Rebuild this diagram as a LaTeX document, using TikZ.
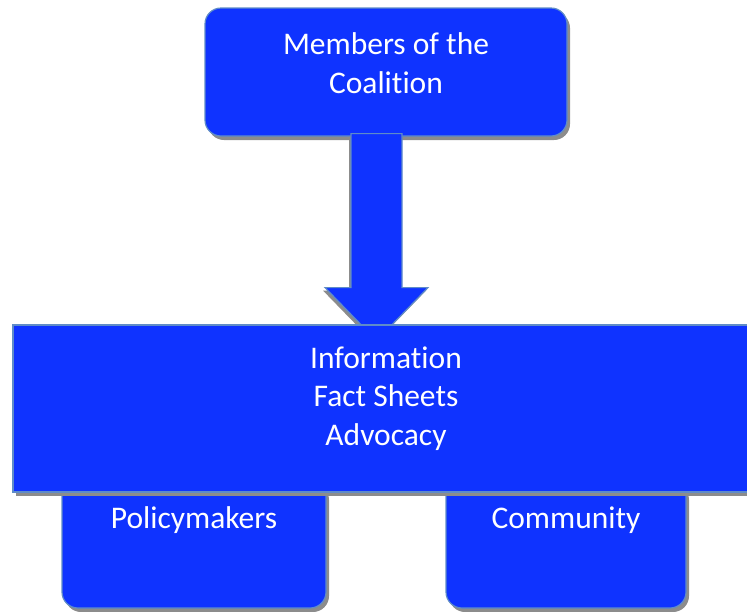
\documentclass[tikz,border=0pt]{standalone}
\usepackage{fontspec}
\setmainfont[Ligatures=NoCommon]{Carlito}
\usetikzlibrary{calc,shadows}

\definecolor{boxblue}{RGB}{15,51,255}
\definecolor{edgeblue}{RGB}{95,140,200}

\tikzset{
  box/.style={draw=edgeblue, fill=boxblue, line width=1.2pt, text=white,
    align=center, inner sep=4pt,
    font=\fontsize{31.5}{38.5}\selectfont,
    drop shadow={shadow xshift=3pt, shadow yshift=-4pt, fill=black!45, opacity=1}},
  blockarrow/.style={draw=edgeblue, fill=boxblue, line width=1.2pt,
    drop shadow={shadow xshift=-2pt, shadow yshift=-3pt, fill=black!45, opacity=1}}
}

\begin{document}
\begin{tikzpicture}[x=1pt,y=-1pt]
\useasboundingbox (0,0) rectangle (747,611);

   % the two groups reached
   \node[box, rounded corners=16pt, minimum width=264pt, text height=44pt, text depth=76pt] (policy) at (194,544) {Policymakers};
   \node[box, rounded corners=16pt, minimum width=240pt, text height=44pt, text depth=76pt] (community) at (566,544) {Community};

   \node[box, rounded corners=16pt, minimum width=362pt, minimum height=128pt, text height=61.5pt, text depth=19.5pt] (members) at (386,72) {Members of the\\Coalition};

   \filldraw[blockarrow] ([shift={(-35,-3)}]members.south) -- ++(51,0) -- ++(0,154) -- ++(26,0)
      -- ++(-51.5,53) -- ++(-51.5,-53) -- ++(26,0) -- cycle;

   \node[box, minimum width=746pt, minimum height=167pt, text height=100pt, text depth=27pt] (info) at (386,408.5) {Information\\Fact Sheets\\Advocacy};

\end{tikzpicture}
\end{document}
